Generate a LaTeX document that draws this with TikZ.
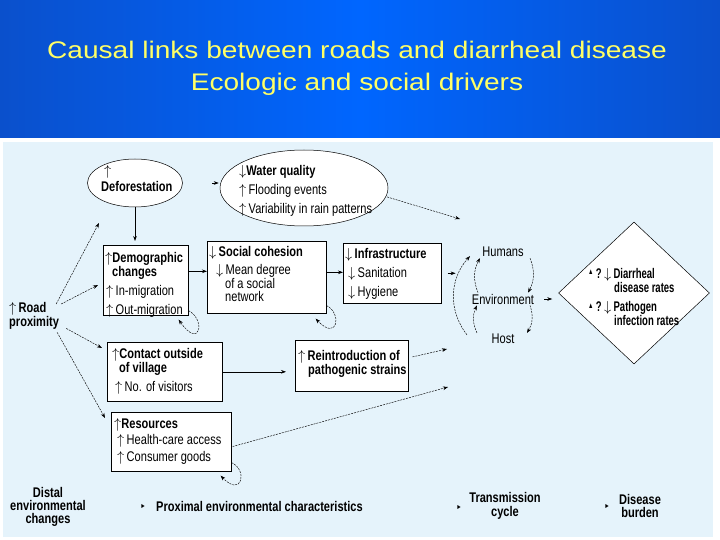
\documentclass[tikz,border=0pt]{standalone}
\usepackage{fontspec}
\setmainfont{Liberation Sans}
\newfontfamily\dfont[FakeStretch=0.79]{Liberation Sans}
\newfontfamily\ddfont[FakeStretch=0.68]{Liberation Sans}
\newfontfamily\tfont[FakeStretch=1.17]{Liberation Sans}
\usetikzlibrary{arrows.meta,shapes.geometric}
\definecolor{panel}{HTML}{E5F3FB}
\definecolor{titleblue}{HTML}{0066FF}
\definecolor{titleedge}{HTML}{0A50CC}
\definecolor{titleyellow}{HTML}{FFFF66}
\newcommand{\myup}{\ensuremath{\uparrow}}
\newcommand{\mydn}{\ensuremath{\downarrow}}
\newcommand{\mytri}{\raisebox{3.5pt}{\fontsize{8}{8}\selectfont ▲}}
\newcommand{\myptr}{{\fontsize{7}{7}\selectfont ►}}
\begin{document}
\begin{tikzpicture}[x=1pt,y=-1pt,
  every node/.style={font=\dfont\fontsize{14}{12}\selectfont},
  box/.style={draw, fill=white, line width=0.6pt, inner sep=0pt, anchor=north west},
  txt/.style={align=left, inner sep=0pt, anchor=north west},
  ell/.style={ellipse, draw, fill=white, line width=0.5pt, inner sep=0pt},
  lbl/.style={inner sep=1pt},
  arr/.style={-{Stealth[length=5pt,width=3.6pt]}, line width=0.6pt},
  darr/.style={arr, dash pattern=on 2pt off 1pt, line width=0.45pt},
  loopline/.style={darr},
]
\useasboundingbox (0,0) rectangle (720,540);
\fill[white] (0,0) rectangle (720,540);
% title band
\shade[left color=titleedge, right color=titleedge, middle color=titleblue] (0,0) rectangle (720,138);
\fill[panel] (3,142) rectangle (713,537);
\node[font=\tfont\fontsize{24}{24}\selectfont, text=titleyellow] (t1) at (357,50) {Causal links between roads and diarrheal disease};
\node[font=\tfont\fontsize{24}{24}\selectfont, text=titleyellow] (t2) at (357,84) {Ecologic and social drivers};

% ellipses
\node[ell, minimum width=95, minimum height=48] (defo) at (135,183) {};
\node[txt] (defot) at (101,165) {\hspace*{3pt}\myup\\[2pt]\textbf{Deforestation}};
\node[ell, minimum width=168, minimum height=76] (water) at (304,188) {};
\node[txt] (watert) at (239,165) {\mydn\textbf{Water quality}\\[5pt]\myup\,Flooding events\\[5pt]\myup\,Variability in rain patterns};

% boxes
\node[box, minimum width=85, minimum height=70] (demo) at (103,245) {};
\node[txt] (demot) at (105,252) {\myup\textbf{Demographic}\\\hspace*{7pt}\textbf{changes}\\[5pt]\hspace*{1pt}\myup\,In-migration\\[5pt]\hspace*{1pt}\myup\,Out-migration};

\node[box, minimum width=119, minimum height=72] (soc) at (207,241) {};
\node[txt] (soct) at (209,246) {\mydn\,\textbf{Social cohesion}\\[4pt]\hspace*{7pt}\mydn\,Mean degree\\\hspace*{16pt}of a social\\[1pt]\hspace*{16pt}network};

\node[box, minimum width=98, minimum height=60] (infra) at (343,243) {};
\node[txt] (infrat) at (345,248) {\mydn\,\textbf{Infrastructure}\\[5pt]\hspace*{3pt}\mydn\,Sanitation\\[5pt]\hspace*{3pt}\mydn\,Hygiene};

\node[box, minimum width=115, minimum height=59] (cont) at (107,342) {};
\node[txt] (contt) at (112,348) {\myup\textbf{Contact outside}\\\hspace*{7pt}\textbf{of village}\\[5pt]\hspace*{3pt}\myup\,No. of visitors};

\node[box, minimum width=113, minimum height=51] (reint) at (295,340) {};
\node[txt] (reintt) at (298,350) {\myup\,\textbf{Reintroduction of}\\\hspace*{10pt}\textbf{pathogenic strains}};

\node[box, minimum width=120, minimum height=59] (res) at (111,412) {};
\node[txt] (rest) at (114,418) {\myup\textbf{Resources}\\[2pt]\hspace*{3pt}\myup\,Health-care access\\[3pt]\hspace*{3pt}\myup\,Consumer goods};

% road
\node[txt] (road) at (9,302) {\myup\,\textbf{Road}\\\textbf{proximity}};

% transmission cycle
\node[lbl] (hum) at (503,252) {Humans};
\node[lbl] (env) at (503,299) {Environment};
\node[lbl] (host) at (503,339) {Host};

% diamond
\node[diamond, draw, fill=white, line width=0.5pt, inner sep=0pt, minimum width=151, minimum height=142] (dia) at (634,293) {};
\node[txt, font=\ddfont\fontsize{14}{12.5}\selectfont] (diat) at (588,268) {\textbf{\mytri\,?\,\mydn\,Diarrheal}\\\hspace*{26pt}\textbf{disease rates}\\[7pt]\textbf{\mytri\,?\,\mydn\,Pathogen}\\\hspace*{26pt}\textbf{infection rates}};

% bottom labels
\node[align=center, inner sep=0pt, anchor=north] (distal) at (48,487) {\textbf{Distal}\\[1pt]\textbf{environmental}\\[1pt]\textbf{changes}};
\node[inner sep=0pt] (m1) at (143,506) {\myptr};
\node[inner sep=0pt, anchor=west] (prox) at (156,506) {\textbf{Proximal environmental characteristics}};
\node[inner sep=0pt] (m2) at (459,507) {\myptr};
\node[align=center, inner sep=0pt] (trans) at (505,506) {\textbf{Transmission}\\[1.5pt]\textbf{cycle}};
\node[inner sep=0pt] (m3) at (607,506) {\myptr};
\node[align=center, inner sep=0pt] (burden) at (640,506) {\textbf{Disease}\\[1.5pt]\textbf{burden}};

% free-end coordinates
\coordinate (e1) at (99,223);
\coordinate (e2) at (98,285);
\coordinate (e3) at (102,348);
\coordinate (e4) at (105,418);
\coordinate (c1) at (460,219);
\coordinate (c2) at (447,349);
\coordinate (c3) at (448,387);

% connectors
\draw[darr] ([xshift=-3pt,yshift=-2pt]road.north east) -- (e1);
\draw[darr] ([xshift=2pt,yshift=-2pt]road.north east) -- (e2);
\draw[darr] ([xshift=7pt,yshift=1pt]road.south east) -- (e3);
\draw[darr] ([xshift=-2pt,yshift=-3pt]road.south east) -- (e4);

\draw[arr] (defo.south) -- ([yshift=4pt]defo.south |- demo.north);
\draw[arr, shorten <=29pt] (defo.east) -- ++(36,0);
\draw[darr, shorten <=1pt] (water.-6) -- (c1);
\draw[arr] ([yshift=9pt]demo.east) -- ([yshift=9pt]demo.east -| soc.west);
\draw[arr] ([yshift=5pt]soc.east) -- ([yshift=5pt]soc.east -| infra.west);
\draw[arr, shorten <=6pt] (infra.east) -- ++(14,0);
\draw[arr, shorten >=9pt] (cont.east) -- (cont.east -| reint.west);
\draw[darr, shorten <=4pt] ([yshift=8pt]reint.east) -- (c2);
\draw[darr, shorten <=1pt] ([yshift=-5pt]res.east) -- (c3);

% self loops
\draw[loopline] ([yshift=5pt]demo.south east) .. controls (206,320) and (200,350) .. ([xshift=-10pt,yshift=-4pt]demo.south east);
\draw[loopline] ([yshift=8pt]soc.south east) .. controls (342,313) and (338,342) .. ([xshift=-11pt,yshift=-5pt]soc.south east);
\draw[loopline] ([yshift=9pt]res.south east) .. controls (248,470) and (242,498) .. ([xshift=-11pt,yshift=-4pt]res.south east);

% cycle arrows
\draw[darr] ([xshift=-25pt]env.north) to[bend left=25] ([xshift=-23pt]hum.south);
\draw[darr] ([xshift=27pt]hum.south) to[bend left=25] ([xshift=25pt]env.north);
\draw[darr] ([xshift=-26pt]host.north) to[bend left=25] ([xshift=-26pt]env.south);
\draw[darr] ([xshift=27pt]env.south) to[bend left=25] ([xshift=24pt]host.north);
\draw[darr] ([xshift=-36pt,yshift=-2pt]host.north) to[bend left=40] ([xshift=-33pt,yshift=2pt]hum.south);
\draw[arr, shorten <=9pt, shorten >=6pt] (env.east) -- (env.east -| dia.west);
\end{tikzpicture}
\end{document}
